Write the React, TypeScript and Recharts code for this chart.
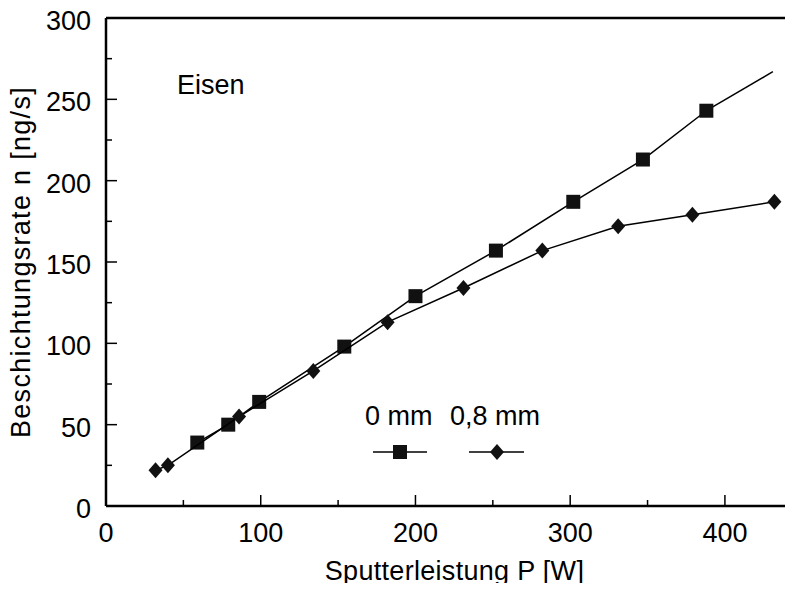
import React from "react";
import {
  ScatterChart,
  Scatter,
  XAxis,
  YAxis,
  ReferenceLine,
} from "recharts";

// Sputterleistung P [W] / Beschichtungsrate n [ng/s]
const power0mm = [59, 79, 99, 154, 200, 252, 302, 347, 388];
const rate0mm = [39, 50, 64, 98, 129, 157, 187, 213, 243];

// Verlängerung der 0-mm-Geraden (ohne Symbol)
const powerFit = [388, 431];
const rateFit = [243, 267];

const power08mm = [32, 40, 86, 134, 182, 231, 282, 331, 379, 432];
const rate08mm = [22, 25, 55, 83, 113, 134, 157, 172, 179, 187];

const xTicks = [0, 50, 100, 150, 200, 250, 300, 350, 400];
const yTicks = [0, 25, 50, 75, 100, 125, 150, 175, 200, 225, 250, 275, 300];

const FONT = "'Liberation Sans', Arial, sans-serif";

const toPoints = (xs: number[], ys: number[]) =>
  xs.map((p, i) => ({ p, r: ys[i] }));

const data0 = toPoints(power0mm, rate0mm);
const dataFit = toPoints(powerFit, rateFit);
const data08 = toPoints(power08mm, rate08mm);

const XTick = (props: any) => {
  const { x, y, payload } = props;
  const major = payload.value % 100 === 0;
  return (
    <g>
      <line x1={x} x2={x} y1={y} y2={y - (major ? 11 : 6)} stroke="#000" strokeWidth={1.5} />
      {major && (
        <text x={x} y={y + 36} textAnchor="middle" fontSize={27} fontFamily={FONT} fill="#000">
          {payload.value}
        </text>
      )}
    </g>
  );
};

const YTick = (props: any) => {
  const { x, y, payload } = props;
  const major = payload.value % 50 === 0;
  return (
    <g>
      <line x1={x} x2={x + (major ? 11 : 6)} y1={y} y2={y} stroke="#000" strokeWidth={1.5} />
      {major && (
        <text x={x - 15} y={y + 12} textAnchor="end" fontSize={27} fontFamily={FONT} fill="#000">
          {payload.value}
        </text>
      )}
    </g>
  );
};

const Square = (props: any) => {
  const { cx, cy } = props;
  return <rect x={cx - 7} y={cy - 7} width={14} height={14} fill="#111" />;
};

const Diamond = (props: any) => {
  const { cx, cy } = props;
  return (
    <polygon
      points={`${cx},${cy - 8} ${cx + 7},${cy} ${cx},${cy + 8} ${cx - 7},${cy}`}
      fill="#111"
    />
  );
};

const Nothing = () => <g />;

const App = () => {
  // negative margin cancels the 8px body margin so chart coords = page coords
  return (
    <div style={{ position: "relative", width: 793, height: 591, margin: -8 }}>
      <ScatterChart
        width={793}
        height={591}
        margin={{ top: 18, right: 0, bottom: 0, left: 0 }}
      >
        <XAxis
          type="number"
          dataKey="p"
          domain={[0, 444]}
          ticks={xTicks}
          interval={0}
          height={85}
          tickSize={0}
          tickMargin={0}
          tick={<XTick />}
          axisLine={{ stroke: "#000", strokeWidth: 2.5 }}
          label={{
            value: "Sputterleistung P [W]",
            position: "insideBottom",
            offset: 11,
            dx: 5,
            style: { fontSize: 27, letterSpacing: 0.3, fontFamily: FONT, fill: "#000" },
          }}
        />
        <YAxis
          type="number"
          dataKey="r"
          domain={[0, 300]}
          ticks={yTicks}
          interval={0}
          width={106}
          tickSize={0}
          tickMargin={0}
          tick={<YTick />}
          axisLine={{ stroke: "#000", strokeWidth: 2.5 }}
          label={{
            value: "Beschichtungsrate n [ng/s]",
            angle: -90,
            position: "insideLeft",
            offset: 23,
            dx: -3,
            style: {
              textAnchor: "middle",
              fontSize: 27,
              letterSpacing: 1.3,
              fontFamily: FONT,
              fill: "#000",
            },
          }}
        />
        <ReferenceLine y={300} stroke="#000" strokeWidth={2.5} />
        <Scatter
          data={dataFit}
          line={{ stroke: "#000", strokeWidth: 1.5 }}
          shape={<Nothing />}
          isAnimationActive={false}
        />
        <Scatter
          data={data0}
          line={{ stroke: "#000", strokeWidth: 1.5 }}
          shape={<Square />}
          isAnimationActive={false}
        />
        <Scatter
          data={data08}
          line={{ stroke: "#000", strokeWidth: 1.5 }}
          shape={<Diamond />}
          isAnimationActive={false}
        />
      </ScatterChart>
      <svg
        width={793}
        height={591}
        style={{ position: "absolute", left: 0, top: 0, pointerEvents: "none" }}
      >
        <g fontFamily={FONT} fontSize={27} fill="#000">
          <text x={177} y={94}>Eisen</text>
          <text x={365} y={425}>0 mm</text>
          <text x={450} y={425}>0,8 mm</text>
          <line x1={373} x2={427} y1={452} y2={452} stroke="#000" strokeWidth={1.5} />
          <rect x={393} y={445} width={14} height={14} fill="#111" />
          <line x1={469} x2={524} y1={452} y2={452} stroke="#000" strokeWidth={1.5} />
          <polygon points="497,444 504,452 497,460 490,452" fill="#111" />
        </g>
      </svg>
    </div>
  );
};

export default App;
